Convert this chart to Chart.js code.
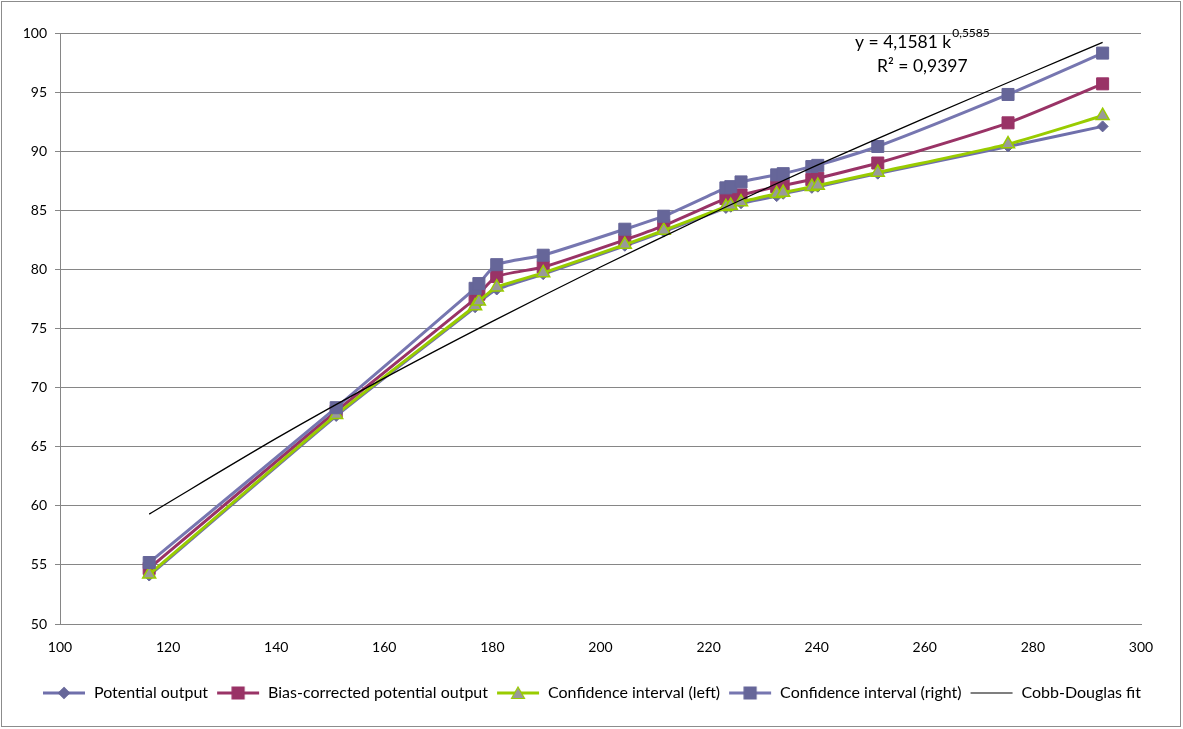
<!DOCTYPE html>
<html>
<head>
<meta charset="utf-8">
<script src="https://cdn.jsdelivr.net/npm/chart.js@4.4.1/dist/chart.umd.min.js"></script>
<style>
  html, body { margin: 0; padding: 0; background: #fff; }
  #wrap { position: relative; width: 1183px; height: 729px; }
  #frame { position: absolute; left: 1px; top: 1px; width: 1178px; height: 724px; border: 1px solid #8c8c8c; pointer-events: none; }
</style>
</head>
<body>
<div id="wrap">
  <canvas id="c" width="1183" height="729"></canvas>
  <div id="frame"></div>
</div>
<script>
// capital stock (x) and the four output series
const capital = [116.5, 151.1, 176.8, 177.5, 180.8, 189.4, 204.5, 211.7, 223.2, 224.1, 226.0, 232.6, 233.8, 239.1, 240.2, 251.3, 275.4, 292.9];
const potentialOutput = [54.1, 67.6, 76.8, 77.2, 78.3, 79.6, 82.0, 83.2, 85.2, 85.3, 85.6, 86.2, 86.4, 86.9, 87.0, 88.1, 90.4, 92.1];
const biasCorrected = [54.7, 68.0, 77.5, 77.9, 79.4, 80.2, 82.5, 83.7, 86.0, 86.1, 86.3, 87.0, 87.1, 87.6, 87.7, 89.0, 92.4, 95.7];
const ciLeft = [54.2, 67.7, 76.9, 77.3, 78.5, 79.7, 82.1, 83.3, 85.3, 85.4, 85.7, 86.4, 86.5, 87.0, 87.1, 88.2, 90.6, 93.0];
const ciRight = [55.2, 68.3, 78.4, 78.8, 80.4, 81.2, 83.4, 84.5, 86.9, 87.0, 87.4, 88.0, 88.1, 88.7, 88.8, 90.4, 94.8, 98.3];

// trend line (Cobb-Douglas fit) points
const fitX = [116.5, 140, 160, 180, 200, 220, 240, 260, 280, 292.9];
const fitY = [59.3, 65.7, 70.8, 75.6, 80.2, 84.6, 88.8, 92.8, 96.7, 99.2];

const xTicks = [100, 120, 140, 160, 180, 200, 220, 240, 260, 280, 300];
const yTicks = [50, 55, 60, 65, 70, 75, 80, 85, 90, 95, 100];

const seriesNames = ["Potential output", "Bias-corrected potential output", "Confidence interval (left)", "Confidence interval (right)", "Cobb-Douglas fit"];
const equationText = "y = 4,1581 k";
const exponentText = "0,5585";
const r2Text = "R\u00b2 = 0,9397";

function pairs(xs, ys) {
  return xs.map((x, i) => ({ x: x, y: ys[i] }));
}

// small canvas used as legend symbol: line with marker in the middle
function legendSymbol(lineColor, marker, fill, stroke) {
  const cv = document.createElement("canvas");
  cv.width = 44;
  cv.height = 16;
  const g = cv.getContext("2d");
  g.strokeStyle = lineColor;
  g.lineWidth = marker ? 3 : 1.2;
  g.beginPath();
  g.moveTo(1, 8);
  g.lineTo(43, 8);
  g.stroke();
  g.fillStyle = fill;
  g.strokeStyle = stroke;
  g.lineWidth = 1.2;
  g.beginPath();
  if (marker === "diamond") {
    g.moveTo(22, 2.5); g.lineTo(27.5, 8); g.lineTo(22, 13.5); g.lineTo(16.5, 8); g.closePath();
  } else if (marker === "square") {
    g.rect(16, 2, 12, 12);
  } else if (marker === "triangle") {
    g.moveTo(22, 2); g.lineTo(28.5, 13.5); g.lineTo(15.5, 13.5); g.closePath();
  }
  if (marker) { g.fill(); g.stroke(); }
  return cv;
}

const symbols = [
  legendSymbol("#6f6fab", "diamond", "#666699", "#666699"),
  legendSymbol("#993366", "square", "#993366", "#993366"),
  legendSymbol("#99cc00", "triangle", "#999999", "#99cc00"),
  legendSymbol("#7676b0", "square", "#666699", "#666699"),
  legendSymbol("#000000", null, "#000", "#000"),
];

// equation text in the top right corner
const equationPlugin = {
  id: "equation",
  afterDatasetsDraw(chart) {
    const ctx = chart.ctx;
    ctx.save();
    ctx.fillStyle = "#000";
    ctx.textBaseline = "alphabetic";
    ctx.font = "17.5px Lato, 'Open Sans', sans-serif";
    ctx.textAlign = "left";
    ctx.fillText(equationText, 855, 48);
    const w = ctx.measureText(equationText).width;
    ctx.font = "12px Lato, 'Open Sans', sans-serif";
    ctx.fillText(exponentText, 855 + w + 1, 37);
    ctx.font = "17.5px Lato, 'Open Sans', sans-serif";
    ctx.fillText(r2Text, 877, 72);
    ctx.restore();
  },
};

const fontFamily = "Lato, 'Open Sans', sans-serif";
Chart.defaults.font.family = fontFamily;
Chart.defaults.color = "#000";

const ctx = document.getElementById("c").getContext("2d");
new Chart(ctx, {
  type: "scatter",
  data: {
    datasets: [
      {
        label: seriesNames[0],
        data: pairs(capital, potentialOutput),
        showLine: true,
        borderColor: "#6f6fab",
        borderWidth: 3,
        pointStyle: "rectRot",
        pointRadius: 5.5,
        pointBackgroundColor: "#666699",
        pointBorderColor: "#666699",
        pointBorderWidth: 1,
        tension: 0.2,
        order: 4,
      },
      {
        label: seriesNames[1],
        data: pairs(capital, biasCorrected),
        showLine: true,
        borderColor: "#993366",
        borderWidth: 3,
        pointStyle: "rect",
        pointRadius: 8.5,
        pointBackgroundColor: "#993366",
        pointBorderColor: "#993366",
        pointBorderWidth: 1,
        tension: 0.2,
        order: 3,
      },
      {
        label: seriesNames[2],
        data: pairs(capital, ciLeft),
        showLine: true,
        borderColor: "#99cc00",
        borderWidth: 3,
        pointStyle: "triangle",
        pointRadius: 7.5,
        pointBackgroundColor: "#999999",
        pointBorderColor: "#99cc00",
        pointBorderWidth: 1.5,
        tension: 0.2,
        order: 2,
      },
      {
        label: seriesNames[3],
        data: pairs(capital, ciRight),
        showLine: true,
        borderColor: "#7676b0",
        borderWidth: 3,
        pointStyle: "rect",
        pointRadius: 8.5,
        pointBackgroundColor: "#666699",
        pointBorderColor: "#666699",
        pointBorderWidth: 1,
        tension: 0.2,
        order: 1,
      },
      {
        label: seriesNames[4],
        data: pairs(fitX, fitY),
        showLine: true,
        borderColor: "#000000",
        borderWidth: 1.3,
        pointRadius: 0,
        tension: 0.3,
        order: 0,
      },
    ],
  },
  options: {
    responsive: false,
    animation: false,
    devicePixelRatio: 1,
    layout: { padding: { left: 0, right: 0, top: 33, bottom: 18 } },
    scales: {
      x: {
        type: "linear",
        min: 100,
        max: 300,
        afterBuildTicks: (scale) => { scale.ticks = xTicks.map((v) => ({ value: v })); },
        afterFit: (scale) => { scale.height = 53; },
        grid: { display: false, drawTicks: true, tickLength: 5, color: "#868686" },
        border: { display: true, color: "#868686", width: 1 },
        ticks: { font: { size: 14 }, color: "#000", padding: 10, maxRotation: 0 },
      },
      y: {
        min: 50,
        max: 100,
        afterBuildTicks: (scale) => { scale.ticks = yTicks.map((v) => ({ value: v })); },
        afterFit: (scale) => { scale.width = 60; },
        grid: { color: "#868686", lineWidth: 1, tickLength: 5 },
        border: { display: true, color: "#868686", width: 1 },
        ticks: { font: { size: 14 }, color: "#000", padding: 8 },
      },
      // empty axis on the right, only keeps space free next to the plot
      yRight: {
        position: "right",
        min: 50,
        max: 100,
        afterFit: (scale) => { scale.width = 42; },
        grid: { display: false, drawTicks: false },
        border: { display: false },
        ticks: { display: false },
      },
    },
    plugins: {
      tooltip: { enabled: false },
      legend: {
        position: "bottom",
        labels: {
          usePointStyle: true,
          pointStyleWidth: 44,
          boxHeight: 16,
          padding: 8,
          font: { size: 16 },
          color: "#000",
          generateLabels: (chart) =>
            chart.data.datasets.map((ds, i) => ({
              text: ds.label,
              pointStyle: symbols[i],
              fillStyle: "transparent",
              strokeStyle: "transparent",
              lineWidth: 0,
              hidden: false,
              datasetIndex: i,
            })),
        },
      },
    },
  },
  plugins: [equationPlugin],
});
</script>
</body>
</html>
